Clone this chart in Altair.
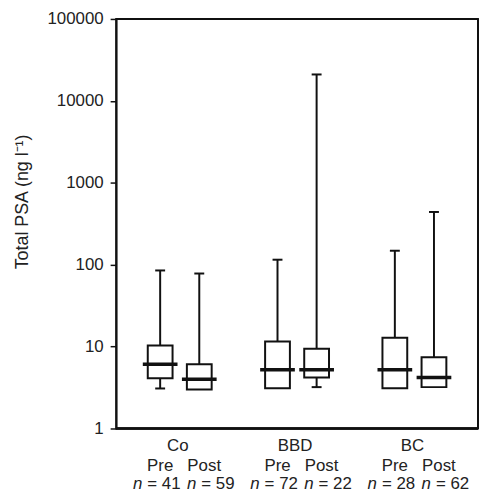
import altair as alt
import pandas as pd

# ---- data ----
groups = ["Co", "BBD", "BC"]
phases = ["Pre", "Post"]
n_vals = [41, 59, 72, 22, 28, 62]
mins = [3.08, 3.0, 3.1, 3.2, 3.1, 3.2]
q1s = [4.1, 3.0, 3.1, 4.2, 3.1, 3.2]
medians = [6.1, 4.0, 5.2, 5.2, 5.2, 4.2]
q3s = [10.3, 6.1, 11.5, 9.4, 12.8, 7.4]
maxs = [85, 78, 115, 21000, 148, 440]
y_ticks = [1, 10, 100, 1000, 10000, 100000]

rows = []
k = 0
for gi, g in enumerate(groups):
    for pi, p in enumerate(phases):
        rows.append(dict(group=g, phase=p, pos=gi * 3 + pi, n=n_vals[k],
                         nlab="= " + str(n_vals[k]),
                         mn=mins[k], q1=q1s[k], med=medians[k], q3=q3s[k], mx=maxs[k]))
        k += 1
df = pd.DataFrame(rows)
gdf = pd.DataFrame({"group": groups, "gpos": [gi * 3 + 0.5 for gi in range(len(groups))]})

FONT = "Liberation Sans"
INK = "#111111"
FS = 17
W, H = 365, 413

xs = alt.Scale(domain=[-1, 8], nice=False, zero=False)
ys = alt.Scale(type="log", domain=[1, 100000], nice=False)

X = alt.X("pos:Q", scale=xs, axis=None)
Xg = alt.X("gpos:Q", scale=xs, axis=None)

yaxis = alt.Axis(values=y_ticks, format="d", grid=False, tickSize=6, tickColor=INK,
                 tickWidth=1.5, domainColor=INK, domainWidth=2, labelFont=FONT,
                 labelFontSize=FS, labelColor="#222222", labelPadding=7,
                 title="Total PSA (ng l\u207b\u00b9)", titleFont=FONT, titleFontSize=18,
                 titleFontWeight="normal", titleColor="#222222", titleAngle=-90,
                 titleX=-94, titleY=184, titleAlign="center", titleBaseline="middle")

base = alt.Chart(df)

whisk_up = base.mark_rule(color=INK, strokeWidth=2).encode(
    x=X, y=alt.Y("q3:Q", scale=ys, axis=yaxis), y2="mx:Q")
whisk_lo = base.transform_filter("datum.mn < datum.q1").mark_rule(color=INK, strokeWidth=2).encode(
    x=X, y=alt.Y("mn:Q", scale=ys), y2="q1:Q")
box = base.mark_bar(size=25, fill="white", stroke=INK, strokeWidth=2).encode(
    x=X, y=alt.Y("q1:Q", scale=ys), y2="q3:Q")
med = base.mark_tick(orient="horizontal", size=35, thickness=3.5, color=INK, opacity=1).encode(
    x=X, y=alt.Y("med:Q", scale=ys))
cap_up = base.mark_tick(orient="horizontal", size=10, thickness=2, color=INK, opacity=1).encode(
    x=X, y=alt.Y("mx:Q", scale=ys))
cap_lo = base.transform_filter("datum.mn < datum.q1").mark_tick(
    orient="horizontal", size=10, thickness=2, color=INK, opacity=1).encode(
    x=X, y=alt.Y("mn:Q", scale=ys))

# frame (top, right, bottom edges of the plot box)
frame_top = alt.Chart(gdf).mark_rule(color=INK, strokeWidth=1.6).encode(
    x=alt.value(0), x2=alt.value(W), y=alt.value(0))
frame_right = alt.Chart(gdf).mark_rule(color=INK, strokeWidth=1.6).encode(
    x=alt.value(W), y=alt.value(0), y2=alt.value(H))
frame_bottom = alt.Chart(gdf).mark_rule(color=INK, strokeWidth=2).encode(
    x=alt.value(0), x2=alt.value(W), y=alt.value(H))

txt = dict(font=FONT, fontSize=FS, color="#222222", baseline="alphabetic")
glab = alt.Chart(gdf).mark_text(align="center", dx=-2, **txt).encode(
    x=Xg, y=alt.value(436), text="group:N")
pre = base.transform_filter("datum.phase == 'Pre'")
post = base.transform_filter("datum.phase == 'Post'")
plab_pre = pre.mark_text(align="center", dx=0, **txt).encode(x=X, y=alt.value(456), text="phase:N")
plab_post = post.mark_text(align="center", dx=5, **txt).encode(x=X, y=alt.value(456), text="phase:N")
nit_pre = pre.mark_text(align="right", dx=-18, fontStyle="italic", **txt).encode(
    x=X, y=alt.value(474), text=alt.value("n"))
nnum_pre = pre.mark_text(align="left", dx=-13, **txt).encode(x=X, y=alt.value(474), text="nlab:N")
nit_post = post.mark_text(align="right", dx=-3, fontStyle="italic", **txt).encode(
    x=X, y=alt.value(474), text=alt.value("n"))
nnum_post = post.mark_text(align="left", dx=2, **txt).encode(x=X, y=alt.value(474), text="nlab:N")

chart = alt.layer(frame_top, frame_right, frame_bottom,
                  whisk_up, whisk_lo, box, med, cap_up, cap_lo, glab, plab_pre, plab_post,
                  nit_pre, nnum_pre, nit_post, nnum_post).properties(
    width=W, height=H,
    padding={"left": 109, "top": 9, "right": 4, "bottom": 62},
    autosize=alt.AutoSizeParams(type="none"),
    background="white",
).configure_view(stroke=INK, strokeWidth=1.8)

chart.save("out.html", embed_options={"renderer": "svg", "actions": False})
